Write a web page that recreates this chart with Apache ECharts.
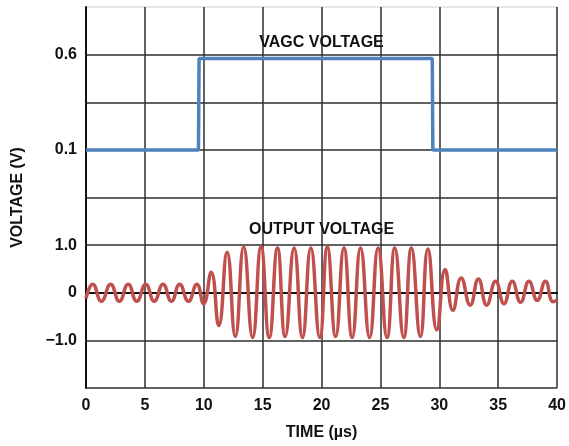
<!DOCTYPE html>
<html>
<head>
<meta charset="utf-8">
<script src="https://cdn.jsdelivr.net/npm/echarts@6/dist/echarts.min.js"></script>
<style>
  html, body { margin: 0; padding: 0; background: #fff; }
  #chart { width: 569px; height: 446px; }
</style>
</head>
<body>
<div id="chart"></div>
<script>
// VAGC control voltage (V) vs time (µs)
const vagcTime = [0, 9.55, 9.6, 29.4, 29.45, 40];
const vagcVolt = [0.1, 0.1, 0.58, 0.58, 0.1, 0.1];

// output voltage (V), read at peaks and troughs of the waveform
const outTime = [
  0, 0.57, 1.31, 2.09, 2.83, 3.58, 4.31, 5.07, 5.79, 6.54, 7.25, 7.95, 8.69, 9.41, 9.98,
  10.63, 11.27, 11.98, 12.68, 13.39, 14.15, 14.86, 15.56, 16.26, 16.91, 17.67, 18.38,
  19.09, 19.85, 20.49, 21.2, 21.9, 22.6, 23.31, 24.08, 24.8, 25.56, 26.22, 26.98,
  27.63, 28.39, 29.03, 29.79, 30.49, 31.15, 31.86, 32.62, 33.32, 34.02, 34.78, 35.49,
  36.19, 36.9, 37.61, 38.31, 39.01, 39.66, 40
];
const outVolt = [
  -0.12, 0.18, -0.18, 0.18, -0.18, 0.18, -0.18, 0.18, -0.18, 0.18, -0.18, 0.18, -0.18, 0.18, -0.23,
  0.43, -0.69, 0.85, -0.92, 0.96, -0.94, 0.96, -0.94, 0.94, -0.92, 0.94, -0.94,
  0.94, -0.94, 0.96, -0.92, 0.94, -0.94, 0.94, -0.94, 0.94, -0.94, 0.94, -0.94,
  0.94, -0.92, 0.92, -0.78, 0.49, -0.37, 0.31, -0.26, 0.29, -0.26, 0.24, -0.23,
  0.24, -0.2, 0.24, -0.16, 0.24, -0.19, -0.15
];

const xTicks = [0, 5, 10, 15, 20, 25, 30, 35, 40];
const outLabels = { "-1": "\u22121.0", "0": "0", "1": "1.0" };
const vagcLabels = ["0.1", "0.6"];

const font = "Liberation Sans, Arial, sans-serif";
const txt = { fontFamily: font, fontWeight: "bold", fontSize: 16, color: "#111" };
const chart = echarts.init(document.getElementById("chart"));

const option = {
  animation: false,
  grid: { left: 86, right: 9, top: 7, bottom: 57 },
  xAxis: {
    type: "value",
    min: 0,
    max: 40,
    interval: 5,
    name: "TIME (\u00b5s)",
    nameLocation: "middle",
    nameGap: 37,
    nameTextStyle: txt,
    axisLine: { show: true, lineStyle: { color: "#111", width: 2 } },
    axisTick: { show: false },
    axisLabel: Object.assign({
      margin: 10,
      formatter: v => (xTicks.indexOf(v) >= 0 ? String(v) : "")
    }, txt),
    splitLine: { show: true, lineStyle: { color: "#2e2e2e", width: 1.5 } }
  },
  yAxis: [
    {
      type: "value",
      position: "left",
      min: -2,
      max: 6,
      interval: 1,
      name: "VOLTAGE (V)",
      nameLocation: "middle",
      nameRotate: 90,
      nameGap: 60,
      nameTextStyle: txt,
      axisLine: { show: true, lineStyle: { color: "#111", width: 2 } },
      axisTick: { show: false },
      axisLabel: Object.assign({
        margin: 9,
        formatter: v => {
          const r = Math.round(v);
          return Math.abs(v - r) < 1e-6 && outLabels[String(r)] !== undefined ? outLabels[String(r)] : "";
        }
      }, txt),
      splitLine: {
        show: true,
        lineStyle: {
          color: ["#2e2e2e", "#2e2e2e", "#484848", "#2e2e2e", "#2e2e2e", "#2e2e2e", "#2e2e2e", "#2e2e2e", "#ddd"],
          width: 1.5
        }
      }
    },
    {
      type: "value",
      position: "left",
      min: -1.15,
      max: 0.85,
      interval: 0.25,
      axisLine: { show: false },
      axisTick: { show: false },
      splitLine: { show: false },
      axisLabel: Object.assign({
        margin: 9,
        formatter: v => {
          const s = (Math.round(v * 100) / 100).toFixed(1);
          return vagcLabels.indexOf(s) >= 0 && Math.abs(v - parseFloat(s)) < 1e-6 ? s : "";
        }
      }, txt)
    }
  ],
  series: [
    {
      name: "VAGC VOLTAGE",
      type: "line",
      yAxisIndex: 1,
      symbol: "none",
      data: vagcTime.map((t, i) => [t, vagcVolt[i]]),
      lineStyle: { color: "#4f81bd", width: 3.5 },
      markPoint: {
        symbol: "circle",
        symbolSize: 0,
        label: Object.assign({ show: true, position: "inside", formatter: "{b}" }, txt),
        data: [{ name: "VAGC VOLTAGE", coord: [20, 0.665] }]
      }
    },
    {
      name: "OUTPUT VOLTAGE",
      type: "line",
      yAxisIndex: 0,
      symbol: "none",
      smooth: 0.5,
      data: outTime.map((t, i) => [t, outVolt[i]]),
      lineStyle: { color: "#c0504d", width: 3.5 },
      markPoint: {
        symbol: "circle",
        symbolSize: 0,
        label: Object.assign({ show: true, position: "inside", formatter: "{b}" }, txt),
        data: [{ name: "OUTPUT VOLTAGE", coord: [20, 1.32] }]
      }
    }
  ]
};

chart.setOption(option);
</script>
</body>
</html>
